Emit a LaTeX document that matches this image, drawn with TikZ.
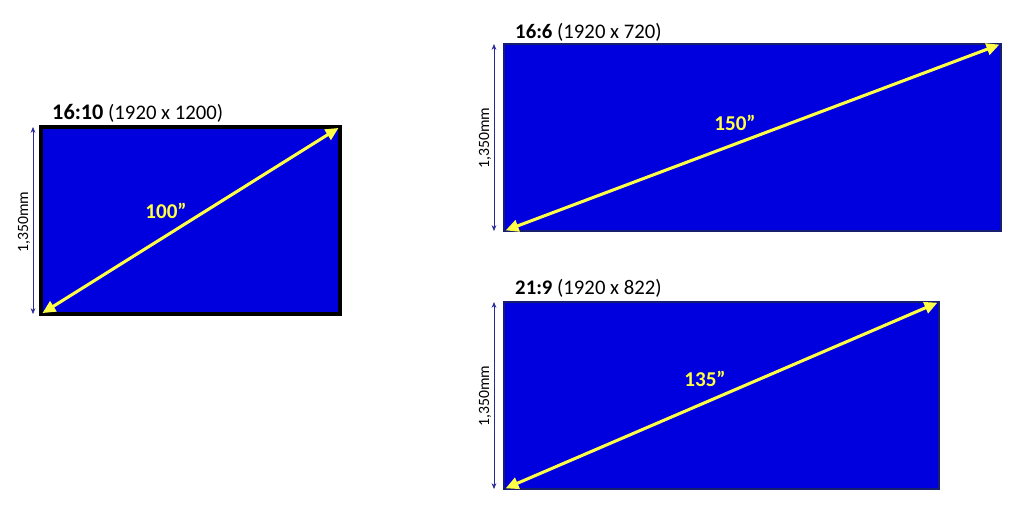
\documentclass[tikz,border=0pt]{standalone}
\usepackage{fontspec}
\setmainfont{Carlito}
\usepackage{tikz}
\usetikzlibrary{arrows.meta, positioning, calc}
\definecolor{screenblue}{RGB}{0, 0, 222}
\definecolor{screenedge}{RGB}{22, 30, 110}
\definecolor{dimnavy}{RGB}{40, 40, 150}
\definecolor{diagyellow}{RGB}{255, 255, 70}

\tikzset{
    screen/.style={fill=screenblue, draw=screenedge, line width=2.2pt, outer sep=0pt,
                   minimum height=5.61cm, anchor=north west, inner sep=0pt},
    diagarrow/.style={diagyellow, line width=2.6pt,
                      {Triangle[length=11pt,width=10pt]}-{Triangle[length=11pt,width=10pt]},
                      shorten <=1.5pt, shorten >=1.5pt},
    dimarrow/.style={dimnavy, line width=0.6pt, {Stealth[length=5pt,width=4pt]}-{Stealth[length=5pt,width=4pt]}},
    dimlabel/.style={rotate=90, font=\fontsize{13.4}{15}\selectfont, inner sep=0pt},
    sizelabel/.style={diagyellow, font=\fontsize{18}{20}\selectfont\bfseries},
    ratiotitle/.style={anchor=base west, inner sep=0pt, font=\fontsize{17.7}{20}\selectfont}
}

\begin{document}
\begin{tikzpicture}[x=0.03cm, y=-0.03cm]
    \useasboundingbox (0,0) rectangle (1024,506);

    % 16:10 screen
    \node[screen, draw=black, line width=3pt, minimum width=8.97cm] (wide) at (41,127) {};
    \node[ratiotitle] (widetitle) at (52,119) {\textbf{\fontsize{19}{20}\selectfont 16:10} (1920 x 1200)};
    \draw[diagarrow] (wide.south west) -- (wide.north east);
    \node[sizelabel] (widesize) at (166,211) {100”};
    \draw[dimarrow] ($(wide.north west)+(-8,0)$) coordinate (widetop)
        -- ($(wide.south west)+(-8,0)$) coordinate (widebot);
    \node[dimlabel] (wideheight) at (24,222) {1,350mm};

    % 16:6 screen
    \node[screen, minimum width=14.91cm] (ultra) at (504,44) {};
    \node[ratiotitle] (ultratitle) at (515,39) {\textbf{16:6} (1920 x 720)};
    \draw[diagarrow] (ultra.south west) -- (ultra.north east);
    \node[sizelabel] (ultrasize) at (735,123) {150”};
    \draw[dimarrow] ($(ultra.north west)+(-10,0)$) coordinate (ultratop)
        -- ($(ultra.south west)+(-10,0)$) coordinate (ultrabot);
    \node[dimlabel] (ultraheight) at (485,138) {1,350mm};

    % 21:9 screen
    \node[screen, minimum width=13.05cm] (cinema) at (504,302) {};
    \node[ratiotitle] (cinematitle) at (515,294) {\textbf{21:9} (1920 x 822)};
    \draw[diagarrow] (cinema.south west) -- (cinema.north east);
    \node[sizelabel] (cinemasize) at (705,379) {135”};
    \draw[dimarrow] ($(cinema.north west)+(-10,0)$) coordinate (cinematop)
        -- ($(cinema.south west)+(-10,0)$) coordinate (cinemabot);
    \node[dimlabel] (cinemaheight) at (485,396) {1,350mm};
\end{tikzpicture}
\end{document}
